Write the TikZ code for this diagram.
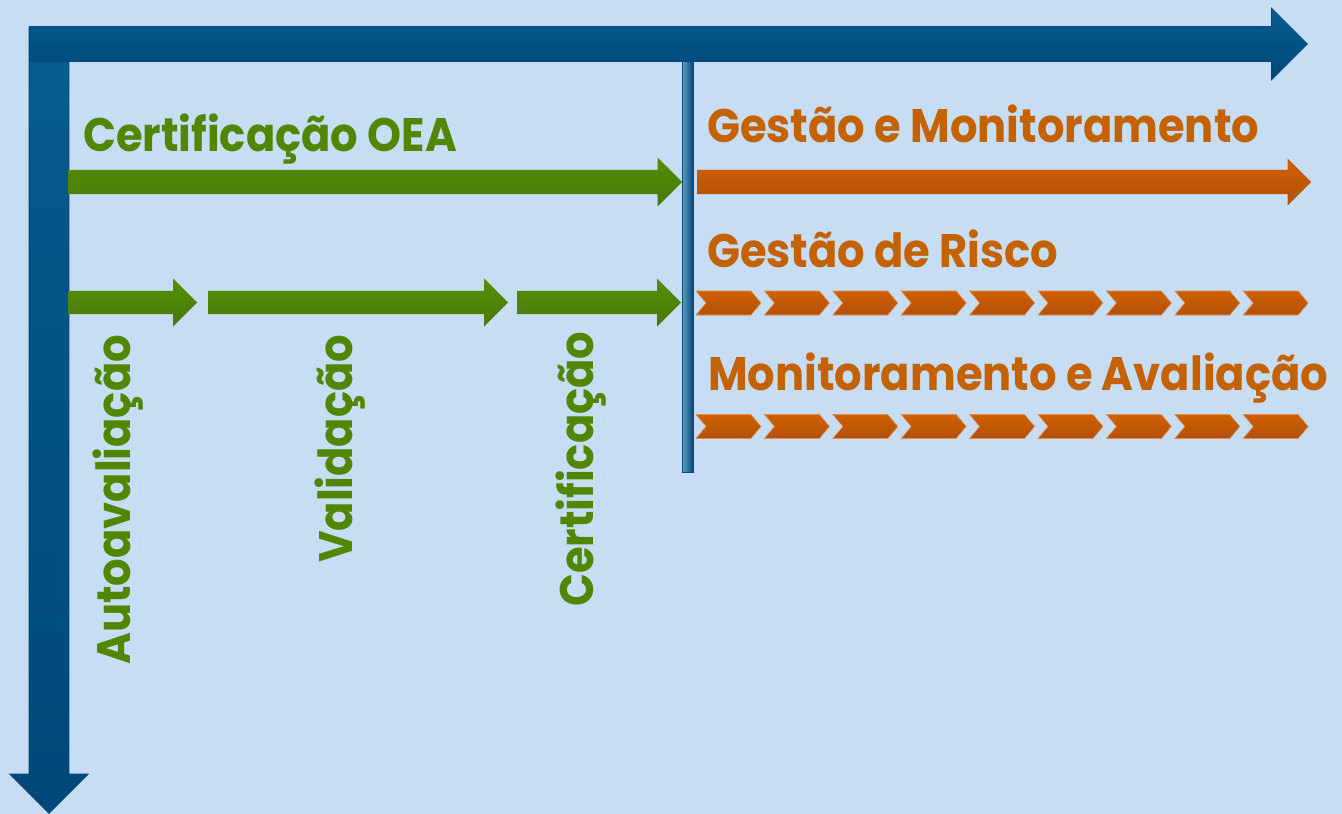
\documentclass[tikz,border=0pt]{standalone}
\usepackage{fontspec}
\setmainfont{Poppins}[FakeStretch=0.92]
\usetikzlibrary{positioning,shapes.arrows,shapes.symbols}
\definecolor{pBack}{RGB}{198,221,243}
\definecolor{pBlue}{RGB}{6,92,145}
\definecolor{pBlueDk}{RGB}{0,72,120}
\definecolor{pGreen}{RGB}{86,142,6}
\definecolor{pGreenDk}{RGB}{72,122,8}
\definecolor{pGreenTxt}{RGB}{80,134,0}
\definecolor{pOrange}{RGB}{208,96,0}
\definecolor{pOrangeDk}{RGB}{178,80,10}
\definecolor{pOrangeTxt}{RGB}{196,97,0}
\tikzset{
    arr/.style={single arrow, inner sep=0pt, text depth=0pt, minimum width=0pt, anchor=tail},
    bluearr/.style={arr, top color=pBlue, bottom color=pBlueDk, draw=pBlueDk, line width=0.8pt},
    greenarr/.style={arr, top color=pGreen, bottom color=pGreenDk, text height=23pt, single arrow head extend=12.5pt},
    orangearr/.style={arr, top color=pOrange, bottom color=pOrangeDk, text height=24pt, single arrow head extend=11.5pt},
    chev/.style={signal, signal to=east, signal from=west, signal pointer angle=100, inner sep=0pt,
        text depth=0pt, text height=24pt, minimum width=65pt, top color=pOrange, bottom color=pOrangeDk,
        draw=pOrange!70!white, line width=0.6pt},
    lbl/.style={inner sep=0pt, anchor=base west, font=\bfseries\fontsize{47}{50}\selectfont},
    lblg/.style={lbl, text=pGreenTxt},
    lblo/.style={lbl, text=pOrangeTxt}
}
\begin{document}
\begin{tikzpicture}[x=1pt,y=-1pt]
\fill[pBack] (0,0) rectangle (1342,814);
% blue axes
\node[bluearr, rotate=-90, text height=39pt, single arrow head extend=19.5pt, minimum height=786pt] (down) at (49,27) {};
\node[bluearr, text height=34pt, single arrow head extend=18.5pt, minimum height=1278pt] (right) at (29,44) {};
\node[anchor=north, inner sep=0pt, minimum width=11pt, minimum height=411pt, left color=pBlue!60!white, right color=pBlueDk, draw=pBlueDk, line width=0.6pt] (split) at (687.5,61) {};
% certification phase
\node[greenarr, text height=24pt, minimum height=614pt] (oea) at (68,182) {};
\node[greenarr, minimum height=129pt] (auto) at (68,302.5) {};
\node[greenarr, minimum height=300pt] (val) at (208,302.5) {};
\node[greenarr, minimum height=164pt] (cert) at (517,302.5) {};
% management phase
\node[orangearr, minimum height=614pt] (gest) at (697,182) {};
\foreach \i in {0,...,8}{
    \node[chev] (risk\i) at ({728.5+68.4*\i},303) {};
    \node[chev] (mon\i) at ({728.5+68.4*\i},426.5) {};
}
% labels
\node[lblg] (oeaT) at (83,151) {Certificação OEA};
\node[lblo] (gestT) at (707,142) {Gestão e Monitoramento};
\node[lblo] (riskT) at (707,267) {Gestão de Risco};
\node[lblo] (monT) at (708,390) {Monitoramento e Avaliação};
\node[lblg, rotate=90] (autoT) at (130,665) {Autoavaliação};
\node[lblg, rotate=90] (valT) at (352,563) {Validação};
\node[lblg, rotate=90] (certT) at (593,607) {Certificação};
\end{tikzpicture}
\end{document}
